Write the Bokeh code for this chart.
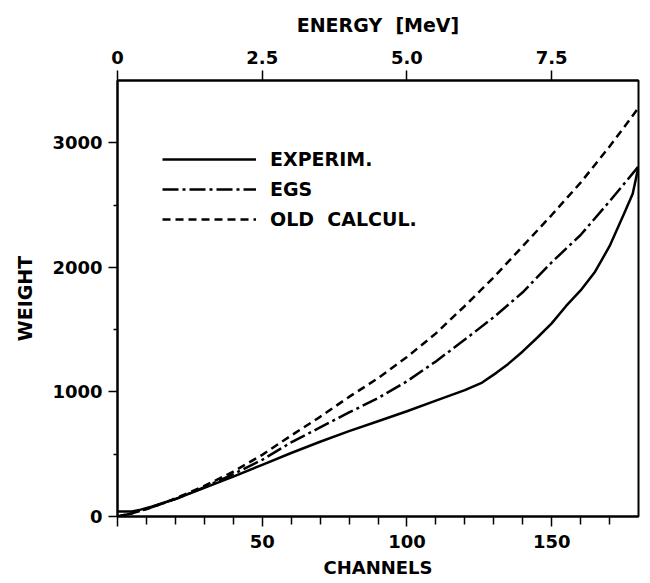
from bokeh.plotting import figure
from bokeh.models import LinearAxis, Range1d, FixedTicker, Legend, LegendItem
from bokeh.embed import file_html
from bokeh.resources import INLINE

# Weighting functions versus pulse-height channel
exp_channels = [0, 5, 8, 12, 16, 20, 30, 40, 50, 60, 70, 80, 90, 100, 110, 120,
                126, 131, 135, 140, 145, 150, 155, 160, 165, 170, 175, 178, 180]
exp_weight = [40, 40, 55, 80, 110, 140, 230, 320, 415, 510, 600, 685, 765, 845,
              930, 1015, 1075, 1155, 1225, 1325, 1435, 1550, 1690, 1815, 1965,
              2170, 2430, 2590, 2810]

calc_channels = [0, 5, 10, 15, 20, 30, 40, 50, 60, 70, 80, 90, 100, 110, 120,
                 130, 140, 150, 160, 170, 180]
egs_weight = [0, 25, 60, 100, 140, 235, 340, 455, 595, 715, 835, 950, 1085,
              1245, 1420, 1600, 1800, 2040, 2260, 2530, 2810]
old_weight = [0, 25, 60, 100, 145, 245, 360, 495, 650, 800, 960, 1110, 1280,
              1470, 1690, 1920, 2170, 2420, 2680, 2970, 3280]

legend_labels = ["EXPERIM.", "EGS", "OLD\u00a0\u00a0CALCUL."]

channel_ticks = [0, 50, 100, 150]
channel_minor = [10, 20, 30, 40, 60, 70, 80, 90, 110, 120, 130, 140, 160, 170]
weight_ticks = [0, 1000, 2000, 3000]
weight_minor = [500, 1500, 2500]
energy_ticks = [0, 2.5, 5.0, 7.5]
energy_labels = ["0", "2.5", "5.0", "7.5"]

FONT = "DejaVu Sans"

p = figure(width=650, height=583, output_backend="svg", toolbar_location=None,
           x_range=Range1d(0, 180), y_range=Range1d(0, 3500),
           min_border_left=117, min_border_right=12,
           min_border_top=80, min_border_bottom=67,
           background_fill_color="white", border_fill_color="white")
p.xgrid.visible = False
p.ygrid.visible = False
p.outline_line_color = "black"
p.outline_line_width = 2


def style_axis(ax, label_size="19px"):
    ax.axis_line_width = 2
    ax.axis_line_color = "black"
    ax.major_tick_line_width = 1.5
    ax.minor_tick_line_width = 1.5
    ax.major_tick_line_color = "black"
    ax.minor_tick_line_color = "black"
    ax.major_tick_in = 0
    ax.minor_tick_in = 0
    ax.major_label_text_font = FONT
    ax.major_label_text_font_style = "bold"
    ax.major_label_text_font_size = "18px"
    ax.major_label_text_color = "black"
    ax.axis_label_text_font = FONT
    ax.axis_label_text_font_style = "bold"
    ax.axis_label_text_font_size = label_size
    ax.axis_label_text_color = "black"


# bottom axis: channels
xa = p.xaxis[0]
style_axis(xa, "18px")
xa.ticker = FixedTicker(ticks=channel_ticks, minor_ticks=channel_minor)
xa.major_label_overrides = {0: ""}
xa.major_tick_out = 10
xa.minor_tick_out = 8
xa.major_label_standoff = 8
xa.axis_label = "CHANNELS"
xa.axis_label_standoff = 6

# left axis: weight
ya = p.yaxis[0]
style_axis(ya)
ya.ticker = FixedTicker(ticks=weight_ticks, minor_ticks=weight_minor)
ya.major_tick_out = 9
ya.minor_tick_out = 4
ya.major_label_standoff = 6
ya.axis_label = "WEIGHT"
ya.axis_label_standoff = 13

# top axis: energy scale of the same channels
p.extra_x_ranges = {"energy": Range1d(0, 9)}
top = LinearAxis(x_range_name="energy")
style_axis(top)
top.ticker = FixedTicker(ticks=energy_ticks, minor_ticks=[])
top.major_label_overrides = {t: s for t, s in zip(energy_ticks, energy_labels)}
top.major_tick_out = 10
top.major_label_standoff = 7
top.axis_label = "ENERGY\u00a0\u00a0[MeV]"
top.axis_label_standoff = 12
p.add_layout(top, "above")

r_exp = p.line(exp_channels, exp_weight, line_color="black", line_width=2.5)
r_egs = p.line(calc_channels, egs_weight, line_color="black", line_width=2.5,
               line_dash="16 4 3 4")
r_old = p.line(calc_channels, old_weight, line_color="black", line_width=2.5,
               line_dash="8 5")

legend = Legend(items=[LegendItem(label=legend_labels[0], renderers=[r_exp]),
                       LegendItem(label=legend_labels[1], renderers=[r_egs]),
                       LegendItem(label=legend_labels[2], renderers=[r_old])],
                location=(45, 282), glyph_width=94, glyph_height=30, spacing=0,
                padding=0, margin=0, label_standoff=14,
                border_line_alpha=0, background_fill_alpha=0,
                label_text_font=FONT, label_text_font_style="bold",
                label_text_font_size="19px", label_text_color="black")
p.add_layout(legend)

open("out.html", "w").write(file_html(p, INLINE))
